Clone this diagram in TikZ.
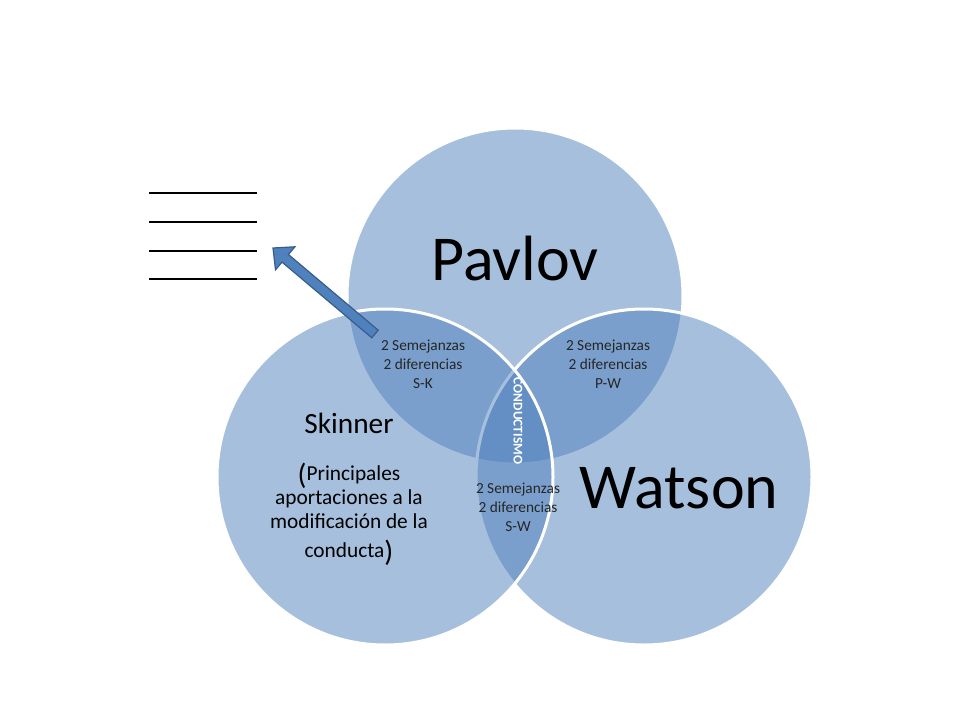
\documentclass[tikz,border=0pt]{standalone}
\usepackage{fontspec}
\setmainfont{Carlito}
\definecolor{acc}{HTML}{4F81BD}
\definecolor{accdark}{HTML}{385D8A}
\newcommand{\parenfont}{\fontsize{22}{24}\selectfont}
\begin{document}
\begin{tikzpicture}[x=0.75pt,y=-0.75pt,
  venn/.style={circle, minimum size=252pt, inner sep=0pt, fill=acc, fill opacity=0.5, draw=white, draw opacity=1, line width=2.25pt},
  bigname/.style={font=\fontsize{48}{52}\selectfont, text=black, inner sep=0pt, anchor=base},
  midname/.style={font=\fontsize{22}{26}\selectfont, text=black, inner sep=0pt, anchor=base},
  smalltext/.style={font=\fontsize{16}{18}\selectfont, text=black, inner sep=0pt, align=center, anchor=base},
  pairlabel/.style={font=\fontsize{11.5}{14.25}\selectfont, align=center, inner sep=0pt, text=black!85},
  blank/.style={line width=1.6pt, black}
]
\useasboundingbox (0,0) rectangle (960,720);
\fill[white] (0,0) rectangle (960,720);

% circles (Pavlov, Watson, Skinner order)
\node[venn] (pav) at (515,296) {};
\node[venn] (wat) at (644,477) {};
\node[venn] (ski) at (385,477) {};

% big names
\node[bigname] (pavt) at (515,281) {Pavlov};
\node[bigname] (watt) at (679,508) {Watson};

% Skinner block
\node[midname] (skit) at (349,433) {Skinner};
\node[smalltext] (skdesc) at (349,557) {\smash{\raisebox{-3pt}{\parenfont(}}Principales\\aportaciones a la\\modificación de la\\[3.75pt]conducta\smash{\raisebox{-3pt}{\parenfont)}}};

% pair labels
\node[pairlabel] (sk) at (423,364) {2 Semejanzas\\2 diferencias\\S-K};
\node[pairlabel] (pw) at (608,364) {2 Semejanzas\\2 diferencias\\P-W};
\node[pairlabel] (sw) at (518,507) {2 Semejanzas\\2 diferencias\\S-W};

% centre
\node[text=white, font=\fontsize{10}{12}\selectfont\bfseries, rotate=-90, inner sep=0pt] (cond) at (518,421) {CONDUCTISMO};

% blank lines
\coordinate (l1a) at (149,193); \coordinate (l1b) at (257,193);
\coordinate (l2a) at (149,222); \coordinate (l2b) at (257,222);
\coordinate (l3a) at (149,251); \coordinate (l3b) at (257,251);
\coordinate (l4a) at (149,279); \coordinate (l4b) at (257,279);
\draw[blank] (l1a) -- (l1b);
\draw[blank] (l2a) -- (l2b);
\draw[blank] (l3a) -- (l3b);
\draw[blank] (l4a) -- (l4b);

% block arrow
\filldraw[fill=acc, draw=accdark, line width=0.9pt, line join=miter]
  (378.2,330.2) -- (288.4,254.5) -- (294.9,246.8) -- (273,248) -- (275.5,269.8) -- (282.0,262.1) -- (371.8,337.8) -- cycle;
\end{tikzpicture}
\end{document}
